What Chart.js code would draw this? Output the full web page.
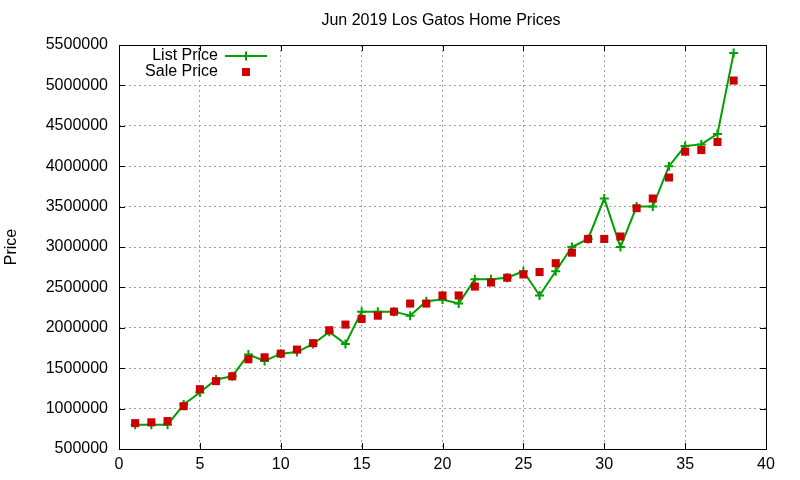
<!DOCTYPE html>
<html>
<head>
<meta charset="utf-8">
<script src="https://cdn.jsdelivr.net/npm/chart.js@4.4.1/dist/chart.umd.min.js"></script>
<style>
  html, body { margin: 0; padding: 0; background: #fff; }
  #wrap { width: 800px; height: 480px; }
</style>
</head>
<body>
<div id="wrap"><canvas id="chart" width="800" height="480"></canvas></div>
<script>
// Data
const homeIndex = [1, 2, 3, 4, 5, 6, 7, 8, 9, 10, 11, 12, 13, 14, 15, 16, 17, 18, 19,
    20, 21, 22, 23, 24, 25, 26, 27, 28, 29, 30, 31, 32, 33, 34, 35, 36, 37, 38];
const listPrice = [800000, 800000, 800000, 1050000, 1200000, 1360000, 1400000, 1670000,
    1590000, 1680000, 1700000, 1800000, 1950000, 1800000, 2200000, 2200000, 2200000,
    2150000, 2330000, 2350000, 2300000, 2600000, 2600000, 2620000, 2700000, 2400000,
    2700000, 3000000, 3100000, 3600000, 3000000, 3500000, 3500000, 4000000, 4250000,
    4270000, 4400000, 5400000];
const salePrice = [820000, 830000, 845000, 1030000, 1240000, 1340000, 1400000, 1610000,
    1635000, 1680000, 1730000, 1810000, 1970000, 2040000, 2110000, 2150000, 2200000,
    2300000, 2300000, 2400000, 2400000, 2510000, 2560000, 2620000, 2660000, 2690000,
    2800000, 2930000, 3100000, 3100000, 3130000, 3480000, 3600000, 3860000, 4180000,
    4200000, 4300000, 5060000];
const titleText = 'Jun 2019 Los Gatos Home Prices';

const FONT = 'Liberation Sans, Arial, sans-serif';
const GREEN = '#00a000';
const RED = '#cc0000';

const toPoints = vals => vals.map((v, i) => ({ x: homeIndex[i], y: v }));

// gnuplot style frame, inward ticks, title and key
const gnuplotFrame = {
    id: 'gnuplotFrame',
    afterDraw(chart) {
        const ctx = chart.ctx;
        const a = chart.chartArea;
        const xs = chart.scales.x;
        const ys = chart.scales.y;
        ctx.save();
        ctx.strokeStyle = '#000';
        ctx.lineWidth = 1;
        ctx.strokeRect(a.left + 0.5, a.top + 0.5, a.right - a.left, a.bottom - a.top);

        ctx.beginPath();
        xs.ticks.forEach(t => {
            const px = Math.round(xs.getPixelForValue(t.value)) + 0.5;
            ctx.moveTo(px, a.bottom); ctx.lineTo(px, a.bottom - 6);
            ctx.moveTo(px, a.top); ctx.lineTo(px, a.top + 6);
        });
        ys.ticks.forEach(t => {
            const py = Math.round(ys.getPixelForValue(t.value)) + 0.5;
            ctx.moveTo(a.left, py); ctx.lineTo(a.left + 6, py);
            ctx.moveTo(a.right, py); ctx.lineTo(a.right - 6, py);
        });
        ctx.stroke();

        // title
        ctx.fillStyle = '#000';
        ctx.font = '16px ' + FONT;
        ctx.textAlign = 'center';
        ctx.textBaseline = 'middle';
        ctx.fillText(titleText, 441, 21);

        // key
        ctx.textAlign = 'right';
        ctx.fillText(chart.data.datasets[1].label, 218, 56);
        ctx.fillText(chart.data.datasets[0].label, 218, 72);
        ctx.strokeStyle = GREEN;
        ctx.lineWidth = 2;
        ctx.beginPath();
        ctx.moveTo(225, 56); ctx.lineTo(267, 56);
        ctx.moveTo(246, 51.5); ctx.lineTo(246, 60.5);
        ctx.stroke();
        ctx.fillStyle = RED;
        ctx.fillRect(242, 68, 8, 8);
        ctx.restore();
    }
};

new Chart(document.getElementById('chart'), {
    type: 'scatter',
    data: {
        datasets: [
            {
                label: 'Sale Price',
                data: toPoints(salePrice),
                showLine: false,
                pointStyle: 'rect',
                pointRadius: 5.7,
                pointHoverRadius: 5.7,
                backgroundColor: RED,
                borderColor: RED,
                borderWidth: 0,
                order: 1
            },
            {
                label: 'List Price',
                data: toPoints(listPrice),
                showLine: true,
                borderColor: GREEN,
                backgroundColor: GREEN,
                borderWidth: 2,
                pointStyle: 'cross',
                pointRadius: 4.5,
                pointHoverRadius: 4.5,
                pointBorderWidth: 2,
                tension: 0,
                order: 2
            }
        ]
    },
    options: {
        responsive: false,
        animation: false,
        devicePixelRatio: 1,
        layout: { padding: { top: 45, right: 34, left: 0, bottom: 0 } },
        plugins: {
            legend: { display: false },
            tooltip: { enabled: false },
            title: { display: false }
        },
        scales: {
            x: {
                type: 'linear',
                min: 0,
                max: 40,
                afterFit: s => { s.height = 31; },
                ticks: {
                    stepSize: 5,
                    padding: 6,
                    color: '#000',
                    font: { family: FONT, size: 16 },
                    maxRotation: 0
                },
                grid: {
                    drawTicks: false,
                    color: ctx => (ctx.tick.value === 0 || ctx.tick.value === 40) ? 'rgba(0,0,0,0)' : '#a0a0a0',
                    lineWidth: 1
                },
                border: { display: false, dash: [2, 3] }
            },
            y: {
                min: 500000,
                max: 5500000,
                afterFit: s => { s.width = 119; },
                ticks: {
                    stepSize: 500000,
                    padding: 11,
                    color: '#000',
                    font: { family: FONT, size: 16 },
                    callback: v => String(v)
                },
                title: {
                    display: true,
                    text: 'Price',
                    color: '#000',
                    font: { family: FONT, size: 16 },
                    padding: { top: 2, bottom: 0 }
                },
                grid: {
                    drawTicks: false,
                    color: ctx => (ctx.tick.value === 500000 || ctx.tick.value === 5500000) ? 'rgba(0,0,0,0)' : '#a0a0a0',
                    lineWidth: 1
                },
                border: { display: false, dash: [2, 3] }
            }
        }
    },
    plugins: [gnuplotFrame]
});
</script>
</body>
</html>
